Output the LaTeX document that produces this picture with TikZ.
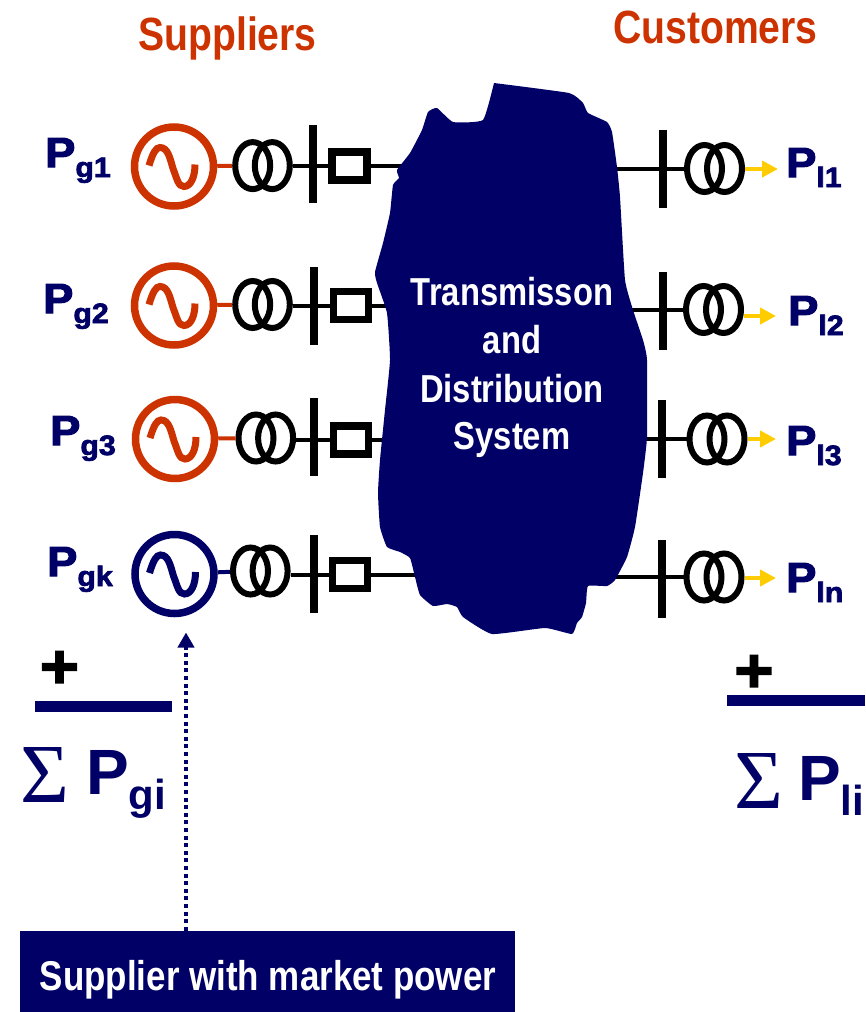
\documentclass[tikz,border=0pt]{standalone}
\usepackage{fontspec}
\setmainfont{Liberation Sans}
\newfontfamily\narrowbold[FakeStretch=0.84]{Liberation Sans Bold}
\newfontfamily\heavybold[FakeBold=2.5,FakeStretch=1.08]{Liberation Sans Bold}
\newfontfamily\sumbold{Liberation Sans Bold}
\newfontfamily\sigmafont{Liberation Serif}
\usetikzlibrary{arrows.meta,shapes.geometric}
\definecolor{navy}{HTML}{000066}
\definecolor{rust}{HTML}{CC3300}
\definecolor{amber}{HTML}{FFCC00}
\tikzset{
    gen/.style = {circle, draw, line width=7.5pt, minimum size=79pt, inner sep=0pt},
    xfm/.style = {ellipse, draw=black, line width=6pt, minimum width=35pt, minimum height=47pt, inner sep=0pt},
    busbar/.style = {rectangle, fill=black, minimum width=8pt, minimum height=78pt, inner sep=0pt},
    brk/.style = {rectangle, draw=black, line width=7.5pt, minimum width=35pt, minimum height=28pt, inner sep=0pt},
    wire/.style = {line width=4pt},
    powlabel/.style = {anchor=base west, inner sep=0pt, text=navy, font=\fontsize{42}{48}\heavybold},
    title/.style = {inner sep=0pt, text=rust, font=\fontsize{46.6}{50}\narrowbold},
    netlabel/.style = {anchor=base, inner sep=0pt, text=white, font=\fontsize{39}{48}\narrowbold},
    sumbar/.style = {rectangle, fill=navy, minimum width=137pt, minimum height=11pt, inner sep=0pt},
    plus/.style = {inner sep=0pt, font=\fontsize{62}{62}\heavybold},
    sumsign/.style = {anchor=base west, inner sep=0pt, text=navy, font=\fontsize{84}{86}\sigmafont},
    sumterm/.style = {anchor=base west, inner sep=0pt, text=navy, font=\fontsize{64}{70}\sumbold}
}
\newcommand{\subp}[1]{\raisebox{-10pt}{\fontsize{28}{30}\selectfont #1}}
\newcommand{\subsum}[1]{\raisebox{-15pt}{\fontsize{42}{46}\selectfont #1}}
\begin{document}
\begin{tikzpicture}[x=1pt, y=-1pt]
    \useasboundingbox (0,0) rectangle (865,1012);

    % suppliers
    \foreach \n/\col/\gx/\gy/\tx/\ty/\bx/\by/\kx/\ky in {
        1/rust/174/166.5/252.7/165.6/313/164/349.5/166,
        2/rust/174/305.5/252.7/304.5/314/306/351/305.5,
        3/rust/175/439/256/438/314/437/351/440,
        4/navy/174.5/574/250.5/571/314/573.5/350/574.5}
    {
        \node[gen, draw=\col] (gen\n) at (\gx,\gy) {};
        \draw[\col, line width=7pt] (gen\n) ++(-25,-1)
            .. controls +(4,-13) and +(-4,0) .. ++(11,-18)
            .. controls +(8,0) and +(-3,-10) .. ++(13,21)
            .. controls +(4,10) and +(-6,0) .. ++(11,18)
            .. controls +(7,0) and +(0,12) .. ++(11,-22);
        \node[xfm] (xfa\n) at (\tx,\ty) {};
        \node[xfm] (xfb\n) at (\tx+19.6,\ty) {};
        \node[busbar] (bus\n) at (\bx,\by) {};
        \node[brk] (brk\n) at (\kx,\ky) {};
        \coordinate (netl\n) at (420,\ky);
        \draw[wire, \col] (gen\n) -- (xfa\n);
        \draw[wire] (xfb\n.east |- brk\n) -- (brk\n);
        \draw[wire] (brk\n) -- (netl\n);
    }

    % customers
    \foreach \n/\bx/\by/\tx/\ty/\ly/\ax in {
        1/662.5/169/704.5/168.5/169/778,
        2/663/311/703.5/309.5/316/776,
        3/662/439/707/439/439/776,
        4/662/579/704/577/578/776}
    {
        \node[busbar] (busr\n) at (\bx,\by) {};
        \node[xfm] (xra\n) at (\tx,\ty) {};
        \node[xfm] (xrb\n) at (\tx+20,\ty) {};
        \coordinate (netr\n) at (600,\ty);
        \coordinate (load\n) at (\ax,\ly);
        \draw[wire] (netr\n) -- (xra\n);
        \draw[amber, line width=4pt, -{Triangle[length=16pt,width=16pt]}] (xrb\n.east |- load\n) -- (load\n);
    }

    % network
    \fill[navy] plot[smooth, tension=0.25] coordinates {
        (494,83) (569,93) (583,103) (588,113) (607,122) (612,132) (617,167)
        (620,197) (625,280) (633,310) (643,340) (647,360) (647,437) (643,473)
        (635,527) (627,557) (615,580) (607,586) (588,586) (586,603) (582,617)
        (577,623) (572,634) (545,628) (492,634) (463,617) (457,607) (447,604)
        (433,606) (420,595) (415,577) (410,558) (400,552) (387,547) (380,527)
        (378,493) (380,460) (385,410) (390,360) (387,313) (377,283) (375,272)
        (383,243) (390,213) (393,185) (399,178) (397,170) (410,153) (422,130)
        (428,112) (437,108) (453,122) (483,120) (494,83)};
    \node[netlabel] (net1) at (512,305) {Transmisson};
    \node[netlabel] (net2) at (512,353) {and};
    \node[netlabel] (net3) at (512,402) {Distribution};
    \node[netlabel] (net4) at (512,449) {System};

    % titles
    \node[title, anchor=base] (suppliers) at (227.5,50) {Suppliers};
    \node[title, anchor=base] (customers) at (715.5,43) {Customers};

    % power labels
    \node[powlabel] (pg1) at (45,167) {P\subp{g1}};
    \node[powlabel] (pg2) at (43,313) {P\subp{g2}};
    \node[powlabel] (pg3) at (50,445) {P\subp{g3}};
    \node[powlabel] (pgk) at (47,576) {P\subp{gk}};
    \node[powlabel] (pl1) at (786,177) {P\subp{l1}};
    \node[powlabel] (pl2) at (788,325) {P\subp{l2}};
    \node[powlabel] (pl3) at (786,455) {P\subp{l3}};
    \node[powlabel] (pln) at (786,592) {P\subp{ln}};

    % sums
    \node[plus] (plusl) at (59.5,669.5) {+};
    \node[plus] (plusr) at (754,673.5) {+};
    \node[sumbar] (barl) at (103.5,706.5) {};
    \node[sumbar, minimum width=138pt] (barr) at (796,700.5) {};
    \node[sumsign] (sigl) at (20,802) {Σ};
    \node[sumterm] (sumg) at (86,794) {P\subsum{gi}};
    \node[sumsign] (sigr) at (734,808) {Σ};
    \node[sumterm] (suml) at (798,800) {P\subsum{li}};

    % market power
    \node[rectangle, fill=navy, minimum width=495pt, minimum height=81pt, inner sep=0pt] (mpbox) at (267.5,971.5) {};
    \node[anchor=base, inner sep=0pt, text=white, font=\fontsize{41.6}{44}\narrowbold] (mptext) at (268,990) {Supplier with market power};
    \coordinate (mptip) at (186,632.5);
    \draw[navy, line width=4pt, dash pattern=on 4pt off 3.6pt, -{Triangle[length=15pt,width=16pt]}] (mpbox.north -| mptip) -- (mptip);
\end{tikzpicture}
\end{document}
